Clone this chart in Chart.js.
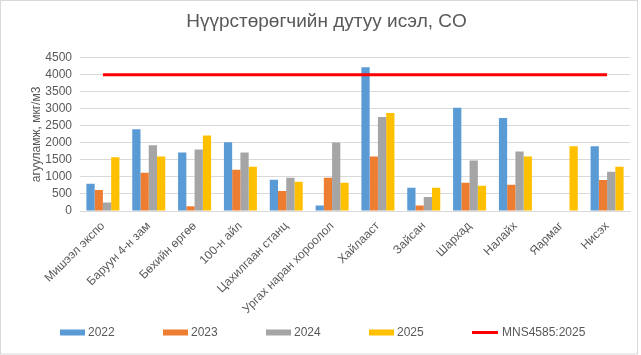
<!DOCTYPE html>
<html>
<head>
<meta charset="utf-8">
<style>
html,body{margin:0;padding:0;background:#ffffff;}
#wrap{width:641px;height:355px;position:relative;}
</style>
<script src="https://cdn.jsdelivr.net/npm/chart.js@4/dist/chart.umd.min.js"></script>
</head>
<body>
<div id="wrap"><canvas id="c" width="641" height="355"></canvas></div>
<script>
const titleText = 'Нүүрстөрөгчийн дутуу исэл, CO';
const yAxisTitle = 'агууламж, мкг/м3';
const categories = ['Мишээл экспо','Баруун 4-н зам','Бөхийн өргөө','100-н айл','Цахилгаан станц','Ургах наран хороолол','Хайлааст','Зайсан','Шархад','Налайх','Яармаг','Нисэх'];
const seriesLabels = ['2022','2023','2024','2025'];
const values2022 = [800, 2400, 1720, 2020, 920, 160, 4220, 680, 3030, 2730, null, 1900];
const values2023 = [620, 1120, 140, 1210, 590, 980, 1600, 160, 830, 770, null, 910];
const values2024 = [250, 1930, 1810, 1720, 980, 2010, 2760, 410, 1480, 1750, null, 1150];
const values2025 = [1580, 1600, 2220, 1300, 860, 830, 2880, 680, 740, 1600, 1900, 1300];
const standardLabel = 'MNS4585:2025';
const standardValues = [4000, 4000, 4000, 4000, 4000, 4000, 4000, 4000, 4000, 4000, 4000, 4000];
const yTicks = [0, 500, 1000, 1500, 2000, 2500, 3000, 3500, 4000, 4500];

const FONT = '"Liberation Sans", Arial, sans-serif';
const TXT = '#595959';
const GRID = '#d9d9d9';
const barColors = ['#5B9BD5', '#ED7D31', '#A5A5A5', '#FFC000'];
const seriesValues = [values2022, values2023, values2024, values2025];

const datasets = seriesLabels.map((lab, i) => ({
  type: 'bar',
  label: lab,
  data: seriesValues[i],
  backgroundColor: barColors[i],
  borderWidth: 0,
  categoryPercentage: 0.72,
  barPercentage: 1.0,
  order: 2
}));
datasets.push({
  type: 'line',
  label: standardLabel,
  data: standardValues,
  borderColor: '#FF0000',
  backgroundColor: '#FF0000',
  borderWidth: 3,
  pointRadius: 0,
  pointHoverRadius: 0,
  fill: false,
  tension: 0,
  order: 1
});

const frame = {
  id: 'frame',
  afterDraw(chart) {
    const ctx = chart.ctx;
    ctx.save();
    ctx.strokeStyle = GRID;
    ctx.lineWidth = 1;
    ctx.strokeRect(0.5, 0.5, 637, 353.5);
    ctx.restore();
  }
};

const customLegend = {
  id: 'customLegend',
  afterDraw(chart) {
    const ctx = chart.ctx;
    ctx.save();
    ctx.font = '12px ' + FONT;
    ctx.textBaseline = 'middle';
    ctx.textAlign = 'left';
    const y = 332.5;
    let x = 60;
    chart.data.datasets.forEach(ds => {
      if (ds.type === 'line') {
        ctx.strokeStyle = ds.borderColor;
        ctx.lineWidth = 3;
        ctx.beginPath();
        ctx.moveTo(x, y);
        ctx.lineTo(x + 26, y);
        ctx.stroke();
        ctx.fillStyle = TXT;
        ctx.fillText(ds.label, x + 30, y + 0.5);
      } else {
        ctx.fillStyle = ds.backgroundColor;
        ctx.fillRect(x, y - 3, 25, 6);
        ctx.fillStyle = TXT;
        ctx.fillText(ds.label, x + 28, y + 0.5);
      }
      x += 103;
    });
    ctx.restore();
  }
};

new Chart(document.getElementById('c'), {
  data: { labels: categories, datasets: datasets },
  options: {
    responsive: false,
    animation: false,
    devicePixelRatio: 1,
    layout: { padding: { left: 23, right: 11, top: 0, bottom: 40 } },
    plugins: {
      legend: { display: false },
      tooltip: { enabled: false },
      title: {
        display: true,
        text: titleText,
        color: TXT,
        font: { family: FONT, size: 19, weight: 'normal' },
        padding: { top: 10, bottom: 25 }
      }
    },
    scales: {
      x: {
        offset: true,
        grid: { display: false, drawTicks: false },
        border: { display: true, color: GRID, width: 1 },
        ticks: {
          color: TXT,
          font: { family: FONT, size: 12 },
          minRotation: 45,
          maxRotation: 45,
          autoSkip: false,
          padding: 8
        },
        afterFit(scale) { scale.height = 104; }
      },
      y: {
        min: 0,
        max: 4500,
        afterBuildTicks(scale) { scale.ticks = yTicks.map(v => ({ value: v })); },
        grid: { color: GRID, lineWidth: 1, drawTicks: false },
        border: { display: false },
        ticks: {
          color: TXT,
          font: { family: FONT, size: 12 },
          padding: 8,
          autoSkip: false,
          callback: v => String(v)
        },
        title: {
          display: true,
          text: yAxisTitle,
          color: TXT,
          font: { family: FONT, size: 12 },
          padding: { top: 6, bottom: 4 }
        },
        afterFit(scale) { scale.width = 57; }
      }
    }
  },
  plugins: [frame, customLegend]
});
</script>
</body>
</html>
